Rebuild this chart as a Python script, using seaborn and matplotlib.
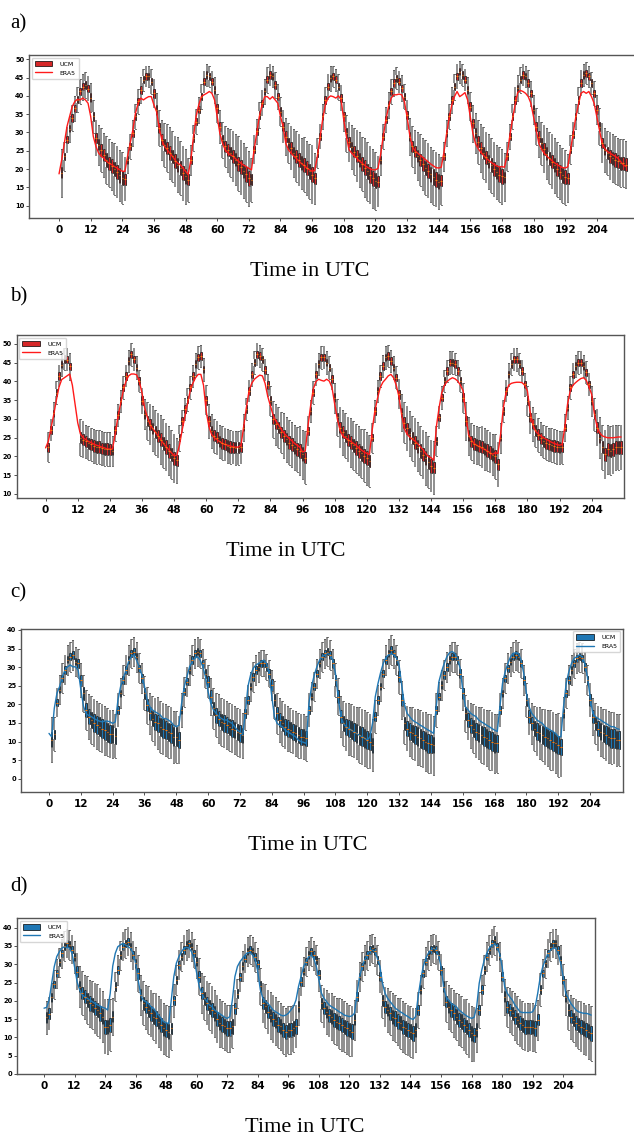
import numpy as np
import pandas as pd
import matplotlib
matplotlib.use("Agg")
import matplotlib.pyplot as plt
from matplotlib.patches import Patch
from matplotlib.lines import Line2D
import seaborn as sns

nan = float("nan")
hours = list(range(216))
xtick_labels = list(range(0, 205, 12))
panel_labels = ["a)", "b)", "c)", "d)"]
series_names = ["UCM", "ERA5"]
xlabel_text = "Time in UTC"

# ---------------- Panel a ----------------
ucm_a = [
    nan, 19, 23.5, 28, 31, 34, 36.6, 39, 41.2, 42.5, 43, 42, 39.5, 34.4, 28.5, 26.6, 25.3, 23.9, 22.5, 21.6, 20.8, 20, 19.2, 18.3,
    17.6, 17.2, 22.5, 26.2, 29.8, 34.4, 38.5, 41.6, 44.4, 45.3, 45.3, 43.9, 40.7, 36.2, 31.2, 28, 26.6, 25.7, 24.4, 23.5, 22.1, 21.2, 20.3, 18.9,
    18, 17.1, 22.5, 28.5, 33, 36.2, 39.8, 43.9, 45.7, 45.3, 43.9, 41.6, 36.6, 31.6, 28, 26.2, 25.3, 24.4, 23.5, 22.6, 21.5, 20.5, 19.5, 18.6,
    17.5, 17.1, 25.3, 30.3, 34.8, 38, 41.2, 44.4, 45.7, 45.3, 43, 39.8, 35.7, 31.6, 28.9, 27.1, 25.7, 24.4, 23.5, 22.5, 21.6, 21.2, 20.3, 19.4,
    18.5, 17.5, 24.4, 28.9, 34.4, 38.9, 42.5, 44.8, 45.3, 44.4, 42.5, 39.4, 34.4, 29.8, 27.5, 26, 24.8, 23.6, 22.5, 21.4, 20.4, 19.4, 18.4, 17.5,
    16.8, 16.6, 22.5, 28.9, 33.5, 37.5, 41.2, 43.5, 44.8, 43.9, 42.1, 39.8, 34.8, 28.9, 26.2, 24.8, 23.6, 22.5, 21.4, 20.4, 19.5, 18.6, 17.8, 17.1,
    16.6, 16.8, 23.5, 29.8, 34.4, 38.9, 42.5, 45.3, 46.6, 45.7, 44.4, 41.6, 37.1, 32.5, 29.8, 27.5, 25.8, 24.4, 23.2, 22, 21, 20, 19.2, 18.5,
    18, 17.8, 23.5, 28.9, 34.4, 38.9, 42.1, 44.4, 45.7, 45.3, 43.5, 40.7, 36.2, 31.6, 28.9, 27, 25.5, 24.2, 23, 22, 21, 20, 19.2, 18.3,
    17.8, 17.5, 25.3, 29.4, 34.4, 38.9, 43.5, 45.7, 46.2, 45.3, 43.5, 40.7, 36.2, 31.6, 27.1, 25.3, 24.4, 23.5, 23, 22.5, 22.1, 21.6, 21.6, 21.2,
]
era5_a = [
    18.7, 22.5, 27.1, 31.6, 34.4, 37.1, 38.5, 39.1, 38.9, 39.4, 38.9, 38, 34.4, 28.9, 26.2, 24.4, 23.5, 23, 22.1, 21.6, 21.2, 20.7, 20.3, 19.8,
    19.4, 19.4, 23.5, 27.1, 30.7, 35.3, 38, 39.4, 38.9, 39.4, 39.8, 39.8, 37.5, 35.7, 31.2, 28, 26.2, 25.3, 24.4, 23.5, 22.5, 21.6, 21.2, 20.3,
    19.4, 18.5, 22.5, 28.9, 34.4, 37.5, 39.8, 40.3, 40.7, 41.2, 40.7, 38.9, 34.4, 29.8, 27.1, 25.3, 24.4, 23.9, 23.5, 22.8, 22.2, 21.6, 21.1, 20.7,
    20.2, 19.8, 25.3, 29.8, 34.4, 37.5, 39.8, 39.8, 39.1, 39.8, 38.9, 38, 34.4, 31.6, 27.1, 25.3, 24.4, 23.6, 22.9, 22.2, 21.5, 20.9, 20.3, 19.8,
    19.4, 19.6, 23.5, 28.5, 33.5, 37.5, 39.4, 40, 39.8, 39.4, 40, 39, 33.5, 29, 25.3, 24.4, 23.6, 22.9, 22.2, 21.6, 21, 20.5, 20.1, 19.8,
    19.8, 20.2, 24, 29, 33.5, 37, 39.4, 40.3, 40.3, 40.5, 40.3, 38.5, 34.4, 29.5, 26.2, 25, 24.4, 23.8, 23.2, 22.6, 22, 21.4, 20.9, 20.4,
    20.3, 20.5, 24.5, 29.5, 34, 37.5, 39.8, 41.2, 39.8, 40.3, 40.9, 38.9, 34.4, 29.8, 27, 25.6, 24.6, 23.8, 23, 22.4, 21.8, 21.3, 20.9, 20.6,
    20.7, 20.5, 24, 29, 33.5, 37.5, 40.9, 41.5, 41.2, 40.7, 39.8, 38, 34.4, 30.7, 27.1, 25.5, 24.4, 23.6, 22.9, 22.3, 21.7, 21.2, 20.8, 20.4,
    20.3, 20.6, 25, 29.5, 34, 37.5, 40.7, 41.2, 40.7, 41.2, 39.8, 38, 34.4, 30.7, 27.1, 25.7, 24.8, 24.4, 23.9, 23.5, 23, 22.1, 21.2, 20.7,
]
box_a = [
    1.8, 1.5, 1, 1, 1, 1, 1, 1, 1, 1, 1, 1, 1.2, 1.3, 1.4, 1.5, 1.6, 1.7, 1.8, 1.8, 1.9, 1.9, 2, 2,
    2, 1.5, 1, 1, 1, 1, 1, 1, 1, 1, 1, 1, 1.2, 1.3, 1.4, 1.5, 1.6, 1.7, 1.8, 1.8, 1.9, 1.9, 2, 2,
    2, 1.5, 1, 1, 1, 1, 1, 1, 1, 1, 1, 1, 1.2, 1.3, 1.4, 1.5, 1.6, 1.7, 1.8, 1.8, 1.9, 1.9, 2, 2,
    2, 1.5, 1, 1, 1, 1, 1, 1, 1, 1, 1, 1, 1.2, 1.3, 1.4, 1.5, 1.6, 1.7, 1.8, 1.8, 1.9, 1.9, 2, 2,
    2, 1.5, 1, 1, 1, 1, 1, 1, 1, 1, 1, 1, 1.2, 1.3, 1.4, 1.5, 1.6, 1.7, 1.8, 1.9, 2, 2, 2.1, 2.1,
    2.1, 1.6, 1, 1, 1, 1, 1, 1, 1, 1, 1, 1, 1.2, 1.3, 1.4, 1.5, 1.6, 1.7, 1.8, 1.9, 2, 2, 2.1, 2.1,
    2, 1.5, 1, 1, 1, 1, 1, 1, 1, 1, 1, 1, 1.2, 1.3, 1.4, 1.5, 1.6, 1.7, 1.8, 1.8, 1.9, 1.9, 2, 2,
    2, 1.5, 1, 1, 1, 1, 1, 1, 1, 1, 1, 1, 1.2, 1.3, 1.4, 1.5, 1.6, 1.7, 1.8, 1.8, 1.9, 1.9, 2, 2,
    2, 1.5, 1, 1, 1, 1, 1, 1, 1, 1, 1, 1, 1.2, 1.3, 1.4, 1.5, 1.6, 1.7, 1.8, 1.8, 1.8, 1.8, 1.8, 1.8,
]
whisk_a = [
    7, 6.5, 4, 3.5, 3.5, 3.5, 3.5, 3.5, 3.5, 3.5, 3.5, 3.5, 4, 4.5, 5, 5.5, 6, 6, 6.5, 6.5, 6.5, 7, 7, 7,
    7, 6, 3.5, 3.5, 3.5, 3.5, 3.5, 3.5, 3, 3, 3, 3.5, 4, 4.5, 5, 5.5, 6, 6.5, 7, 7, 7, 7.5, 7.5, 7.5,
    7.5, 6, 4, 3.5, 3.5, 3.5, 3.5, 3, 3, 3, 3, 3.5, 4, 4.5, 5, 5.5, 6, 6.5, 7, 7, 7.5, 7.5, 7.5, 7.5,
    7.5, 6, 4, 3.5, 3.5, 3.5, 3.5, 3.5, 3, 3, 3.5, 3.5, 4, 4.5, 5, 5.5, 6, 6.5, 7, 7, 7, 7.5, 7.5, 7.5,
    8, 7, 4, 3.5, 3.5, 3.5, 3.5, 3.5, 3, 3, 3.5, 3.5, 4, 5, 5.5, 6, 6.5, 7, 7.5, 7.5, 8, 8, 8, 8,
    8, 7, 4, 3.5, 3.5, 3.5, 3.5, 3.5, 3, 3, 3.5, 3.5, 4, 5, 5.5, 6, 6.5, 7, 7, 7.5, 7.5, 7.5, 7.5, 7.5,
    7.5, 6.5, 4, 3.5, 3.5, 3.5, 3.5, 3.5, 3, 3, 3, 3.5, 4, 5, 5.5, 6, 6.5, 7, 7, 7.5, 7.5, 7.5, 7.5, 7.5,
    7.5, 6.5, 4, 3.5, 3.5, 3.5, 3.5, 3.5, 3, 3, 3.5, 3.5, 4, 5, 5.5, 6, 6.5, 7, 7, 7.5, 7.5, 7.5, 7.5, 7.5,
    7.5, 6.5, 4, 3.5, 3.5, 3.5, 3.5, 3, 3, 3, 3, 3.5, 4, 5, 5.5, 6, 6, 6.5, 6.5, 6.5, 6.5, 6.5, 6.5, 6.5,
]

# ---------------- Panel b ----------------
ucm_b = [
    nan, 22.5, 27, 31.5, 37, 41.5, 44.5, 46, 45.8, 44, nan, nan, nan, 25, 24.5, 24, 23.5, 23.2, 22.8, 22.5, 22.5, 22.2, 22, 22,
    21.9, 21.5, 27, 31, 34.8, 38.4, 41.5, 45.5, 47.2, 45.9, 43.7, 40.1, 34.8, 31.2, 29.5, 28.5, 27.5, 26.5, 25.5, 24.5, 23.5, 22.5, 21.5, 20.5,
    19.5, 19, 25, 29.5, 32.6, 35.2, 38.4, 41.5, 44.6, 46.4, 46.8, 43.2, 35, 29.5, 26.8, 25.5, 25, 24, 23.5, 23.2, 22.8, 22.5, 22.4, 22.3,
    22.3, 22.5, 27.7, 32.6, 37.5, 41.9, 45, 47.2, 46.8, 45.9, 43, 39, 34.8, 29.9, 28.6, 27.7, 26.4, 25.5, 24.6, 23.7, 23.1, 22.4, 21.9, 21.5,
    20.6, 19.7, 26.8, 32.1, 37, 41.9, 44.6, 46.4, 46.4, 45, 43.7, 40.6, 35.7, 30.4, 27.7, 26.5, 25.5, 24.5, 23.7, 23, 22.2, 21.5, 20.8, 20.2,
    19.5, 18.8, 25, 32.1, 37.5, 41.5, 44.1, 46.4, 46.8, 45.5, 43.7, 41, 36.6, 31.7, 29, 27.5, 26, 24.8, 23.7, 22.6, 21.5, 20.5, 19.5, 18.5,
    17.5, 17, 24.1, 30.4, 35.7, 40.1, 42.8, 45, 45, 44.6, 42.8, 40.1, 35.7, 29.5, 25.5, 24, 23.3, 23, 22.8, 22.5, 22, 21.5, 21, 20.5,
    20, 17.9, 25, 32.1, 37.5, 41.9, 44.6, 45.9, 45.9, 44.6, 42.8, 39.2, 34.8, 30.4, 28.6, 27, 25.8, 24.8, 24, 23.5, 23.2, 23, 22.8, 22.6,
    22.4, 22.4, 27.7, 33, 38.4, 41.9, 44.1, 45, 45, 44.1, 42.4, 39.2, 34.8, 31.2, 27.7, 25, 22.4, 20.6, 21.9, 21.5, 21.9, 22.4, 22.4, 22.4,
]
era5_b = [
    22.3, 24, 27.5, 31, 35, 38.5, 40.5, 41, 41.5, 42, 39, 34, 29, 26, 25, 24.5, 24, 23.7, 23.3, 23, 22.8, 22.5, 22.3, 22,
    22, 22, 26, 30.5, 34, 37.5, 40, 41.5, 42, 42, 41.8, 40, 37, 33, 30.5, 28.6, 27.5, 26.5, 25.5, 24.5, 23.5, 22.6, 21.8, 21,
    20.2, 20.3, 23, 27, 30.5, 34, 37.5, 39.5, 41, 41.9, 41.9, 39, 32, 28, 25.9, 25, 24.5, 24, 23.5, 23.2, 23, 22.8, 22.6, 22.5,
    22.5, 23, 28, 33, 37.5, 39.5, 40.6, 41.2, 41.7, 41.5, 39.5, 36, 33.5, 31, 29.5, 28.5, 27.3, 26.3, 25.5, 24.8, 24.2, 23.5, 23, 22.5,
    21.2, 21.5, 28, 33.5, 38, 40, 40.6, 40.3, 40.1, 40.6, 40.1, 38.4, 34, 30, 27, 25.5, 25, 24.5, 24, 23.5, 23, 22.3, 21.7, 21.2,
    20.8, 20.6, 27, 32.1, 35.5, 38.4, 39.8, 40.6, 41.5, 41.9, 41, 39, 36, 31.2, 27.5, 26, 25.2, 24.6, 24.1, 23.4, 22.6, 21.8, 20.8, 20,
    19.7, 19, 28, 33, 37, 39, 40, 40.6, 41, 40.7, 40.1, 39, 37.5, 31.2, 25.9, 24.5, 23.5, 23, 22.6, 22.2, 21.9, 21.5, 21, 20.6,
    21, 20.8, 26, 33, 37, 39, 39.5, 39.7, 39.8, 39.8, 39.7, 39, 37.5, 32, 28.5, 26.8, 26, 25.5, 25, 24.6, 24.2, 23.8, 23.5, 23.2,
    23, 23.2, 28, 34, 37.5, 39, 39.7, 40.3, 40.8, 41, 40.3, 38.5, 36.6, 31.5, 28, 26.3, 25.5, 25.2, 25, 25, 25, 25.1, 25.2, 25.2,
]
box_b = [
    1.5, 1.2, 1, 1, 1, 1, 1, 1, 1, 1, 1, 1, 1, 1.5, 1.5, 1.5, 1.5, 1.5, 1.5, 1.5, 1.5, 1.5, 1.5, 1.5,
    1.5, 1.2, 1, 1, 1, 1, 1, 1, 1, 1, 1, 1, 1.2, 1.3, 1.4, 1.5, 1.5, 1.6, 1.6, 1.7, 1.7, 1.8, 1.8, 1.8,
    1.8, 1.5, 1, 1, 1, 1, 1, 1, 1, 1, 1, 1, 1.2, 1.3, 1.4, 1.5, 1.5, 1.5, 1.5, 1.5, 1.5, 1.5, 1.5, 1.5,
    1.5, 1.2, 1, 1, 1, 1, 1, 1, 1, 1, 1, 1, 1.2, 1.3, 1.4, 1.5, 1.5, 1.6, 1.6, 1.7, 1.7, 1.7, 1.8, 1.8,
    1.8, 1.5, 1, 1, 1, 1, 1, 1, 1, 1, 1, 1, 1.2, 1.3, 1.4, 1.5, 1.6, 1.6, 1.7, 1.7, 1.8, 1.8, 1.9, 1.9,
    1.9, 1.5, 1, 1, 1, 1, 1, 1, 1, 1, 1, 1, 1.2, 1.3, 1.4, 1.5, 1.6, 1.6, 1.7, 1.7, 1.8, 1.8, 1.9, 1.9,
    1.9, 1.5, 1, 1, 1, 1, 1, 1, 1, 1, 1, 1, 1.2, 1.3, 1.5, 1.5, 1.6, 1.6, 1.6, 1.7, 1.7, 1.7, 1.8, 1.8,
    1.8, 1.5, 1, 1, 1, 1, 1, 1, 1, 1, 1, 1, 1.2, 1.3, 1.4, 1.5, 1.5, 1.5, 1.5, 1.5, 1.5, 1.5, 1.5, 1.5,
    1.5, 1.2, 1, 1, 1, 1, 1, 1, 1, 1, 1, 1, 1.2, 1.3, 1.4, 1.5, 1.6, 1.7, 1.7, 1.7, 1.7, 1.7, 1.7, 1.7,
]
whisk_b = [
    5, 4, 3, 3, 3, 3, 3, 3, 3, 3.5, 4, 4, 4, 5, 5, 4.5, 4.5, 4.5, 4.5, 4.5, 4.5, 4.5, 4.5, 4.5,
    4.5, 4, 3, 3, 3, 3, 3, 3, 3, 3, 3, 3, 3.5, 4, 5, 5.5, 6, 6, 6, 6.5, 6.5, 6.5, 6.5, 6.5,
    6.5, 6, 3.5, 3, 3, 3, 3, 3, 3, 3, 3, 3, 4, 4.5, 4.5, 4.5, 4.5, 4.5, 4.5, 4.5, 4.5, 4.5, 4.5, 4.5,
    4.5, 4.5, 3.5, 3, 3, 3, 3, 3, 3, 3, 3, 3, 4, 5, 5.5, 5.5, 5.5, 6, 6, 6, 6, 6, 6, 6.5,
    6.5, 7, 4, 3, 3, 3, 3, 3, 3, 3, 3, 3, 4, 5, 5.5, 6, 6, 6, 6.5, 6.5, 6.5, 6.5, 6.5, 7,
    7, 7, 4, 3, 3, 3, 3, 3, 3, 3, 3, 3, 4, 5, 5.5, 6, 6, 6, 6.5, 6.5, 6.5, 6.5, 7, 7,
    7, 7, 4, 3, 3, 3, 3, 3, 3, 3, 3, 3, 4, 5, 5, 5, 5, 5, 5, 5.5, 5.5, 5.5, 5.5, 5.5,
    6, 6, 4, 3, 3, 3, 3, 3, 3, 3, 3, 3, 4, 4.5, 4.5, 4.5, 4.5, 4.5, 4.5, 4.5, 4.5, 4.5, 4.5, 4.5,
    4.5, 4.5, 3.5, 3, 3, 3, 3, 3, 3, 3, 3, 3, 4, 4.5, 5, 5.5, 6, 6.5, 6.5, 6.5, 6.5, 6, 6, 6,
]

# ---------------- Panel c ----------------
ucm_c = [
    nan, 10.5, 12, 20.5, 24, 27, 29.2, 32, 32.8, 33.3, 31.5, 31, 26.5, 23, 18.5, 16.7, 15.8, 15, 14.5, 14, 13.5, 13, 12.5, 12,
    12, 11.5, 18.5, 23, 26.5, 29.2, 31.9, 33.7, 34.2, 32.8, 29.7, 27, 23, 19.8, 17.6, 16.2, 15.3, 14.9, 14, 13.5, 13.1, 12.6, 12.2, 11.3,
    11.3, 10.4, 18.5, 23.4, 26.1, 29.2, 31.9, 33.7, 34.2, 33.7, 31, 28.3, 26.1, 22.1, 18.9, 17.1, 16.2, 15.3, 14.9, 14.4, 14, 13.5, 13.1, 12.6,
    12.2, 11.7, 17.6, 21.2, 24.8, 27.4, 29.2, 30.1, 31, 31, 30.1, 28.3, 25.2, 21.2, 17.6, 15.8, 14.9, 14, 13.5, 13.1, 12.6, 12.2, 11.7, 11.3,
    11.3, 10.9, 18.5, 22.1, 24.8, 28.3, 31, 32.8, 33.7, 34.2, 33.3, 31, 26.5, 22.1, 16.7, 14.9, 14, 13.5, 13.1, 12.6, 12.2, 11.7, 11.3, 10.9,
    10.4, 10, 9, 16.7, 21.2, 24.8, 28.3, 31.9, 33.7, 34.6, 33.7, 31.9, 27.4, 21.2, 14.9, 13.5, 12.7, 12.2, 11.7, 11.3, 10.9, 10.4, 10, 9.5,
    9.3, 9, 18.5, 22.1, 25.2, 27.9, 30.1, 31.9, 32.8, 32.8, 31.9, 28.3, 23, 17.6, 15.8, 14.4, 13.5, 12.7, 12.2, 11.8, 11.3, 10.9, 10.4, 10,
    9.5, 9.5, 18.5, 23, 27, 29.7, 31.5, 32.8, 33.3, 32.8, 31, 26.5, 21.2, 16.7, 14.9, 13.5, 12.7, 12.2, 11.8, 11.3, 10.9, 10.4, 10, 9.5,
    9.1, 8.6, 17.6, 23, 26.5, 29.2, 31, 32.4, 32.8, 32.4, 30.1, 26.5, 21.2, 16.7, 14.9, 13.5, 12.7, 12.2, 11.8, 11.3, 10.9, 10.9, 10.4, 10.4,
]
era5_c = [
    12.2, 11.3, 19, 23, 24.8, 27.4, 29.2, 30.1, 30.6, 30.1, 30.1, 29.2, 24, 19.5, 17.5, 17, 16.7, 16.2, 15.8, 15.5, 15.3, 15.5, 15.5, 15.3,
    14.9, 15.3, 21.2, 24.8, 27, 29.2, 31.5, 32.8, 33.3, 31.9, 30.1, 27.9, 24.8, 21.2, 19.4, 18.5, 18, 17.6, 17.1, 16.2, 16.2, 15.8, 15.3, 14.4,
    14, 14.4, 20.3, 24.8, 27.4, 30.1, 31.5, 32.4, 32.8, 31.9, 30.1, 27.4, 23.4, 20.3, 18.5, 17.6, 16.7, 16.2, 15.8, 15.8, 15.3, 14.9, 14, 13.1,
    12.6, 11.7, 17.6, 24.8, 27.9, 29.7, 30.6, 31, 31.5, 31.9, 31, 28.3, 22.1, 16.7, 14.9, 14.4, 14, 13.1, 12.6, 12.2, 11.7, 11.3, 10.4, 10,
    9.8, 9.5, 20.3, 24.8, 27.9, 30.1, 31.9, 32.8, 33.3, 33.7, 33.3, 31.9, 28.3, 22.1, 16.7, 14.9, 14, 13.5, 13.1, 12.6, 12.2, 11.7, 11.3, 10.9,
    10.4, 11.3, 15, 22, 25.5, 28.5, 31, 32.5, 33.3, 33.7, 33.3, 32.5, 30.5, 25, 20, 17.6, 16.7, 15.8, 15.3, 14.9, 14.4, 14, 13.5, 13.1,
    12.7, 12.2, 19.4, 26.1, 28.8, 31, 32.8, 33.9, 34.2, 33.7, 32.4, 29.7, 23.9, 19.4, 18.5, 17.6, 17.1, 16.7, 15.8, 15.3, 14.9, 14.4, 14, 13.5,
    13.1, 12.7, 19.4, 25.7, 28.8, 31, 32.8, 33.7, 33.9, 33.7, 31.9, 28.3, 23, 19.4, 17.6, 16.7, 15.8, 15.3, 14.9, 14, 13.5, 13.1, 12.7, 12.2,
    11.3, 11.3, 19.4, 25.7, 28.8, 31, 32.4, 32.8, 33.3, 32.8, 31, 27.4, 22.1, 17.6, 16.7, 16.2, 15.8, 15.3, 14.9, 14.4, 14, 14, 13.5, 13.3,
]
box_c = [
    2.2, 2, 1.2, 1, 1, 1, 1, 1, 1, 1, 1, 1.2, 1.5, 1.7, 1.8, 2, 2.2, 2.3, 2.4, 2.5, 2.5, 2.5, 2.5, 2.5,
    2.5, 2.2, 1.2, 1, 1, 1, 1, 1, 1, 1, 1, 1.2, 1.5, 1.7, 1.8, 2, 2.2, 2.3, 2.4, 2.5, 2.5, 2.5, 2.5, 2.5,
    2.5, 2.2, 1.2, 1, 1, 1, 1, 1, 1, 1, 1, 1.2, 1.5, 1.7, 1.8, 2, 2.1, 2.2, 2.2, 2.2, 2.2, 2.2, 2.2, 2.2,
    2.2, 2, 1.2, 1, 1, 1, 1, 1, 1, 1, 1, 1.2, 1.5, 1.7, 1.8, 2, 2.1, 2.2, 2.2, 2.2, 2.2, 2.2, 2.2, 2.2,
    2.2, 2, 1.2, 1, 1, 1, 1, 1, 1, 1, 1, 1.2, 1.5, 1.7, 1.8, 2, 2.2, 2.3, 2.4, 2.5, 2.5, 2.5, 2.5, 2.5,
    2.5, 2.2, 2, 1.2, 1, 1, 1, 1, 1, 1, 1, 1.2, 1.5, 1.7, 1.8, 2, 2.2, 2.3, 2.4, 2.5, 2.5, 2.5, 2.5, 2.5,
    2.5, 2.2, 1.2, 1, 1, 1, 1, 1, 1, 1, 1, 1.2, 1.5, 1.7, 1.8, 2, 2.2, 2.3, 2.4, 2.5, 2.5, 2.5, 2.5, 2.5,
    2.5, 2.2, 1.2, 1, 1, 1, 1, 1, 1, 1, 1, 1.2, 1.5, 1.7, 1.8, 2, 2.2, 2.3, 2.4, 2.5, 2.5, 2.5, 2.5, 2.5,
    2.5, 2.2, 1.2, 1, 1, 1, 1, 1, 1, 1, 1, 1.2, 1.5, 1.7, 1.8, 2, 2.2, 2.3, 2.4, 2.5, 2.5, 2.5, 2.5, 2.5,
]
whisk_c = [
    6.5, 6, 4.5, 4, 4, 4, 4, 4, 4, 4, 4, 4, 4.5, 5, 5.5, 6, 6.5, 6.5, 6.5, 6.5, 6.5, 6.5, 6.5, 6.5,
    6.5, 6, 4.5, 4, 4, 4, 4, 4, 4, 4, 4, 4, 4.5, 5, 5.5, 6, 6.5, 7, 7, 7, 7, 7, 7, 7,
    7, 6.5, 4.5, 4, 4, 4, 4, 4, 4, 4, 4, 4, 4.5, 5, 5.5, 6, 6.5, 6.5, 6.5, 6.5, 6.5, 6.5, 6.5, 6.5,
    6.5, 6, 4.5, 4, 4, 4, 4, 4, 3.5, 3.5, 3.5, 3.5, 4, 5, 5.5, 6, 6, 6, 6, 6, 6, 6, 6, 6,
    6, 6, 4.5, 4, 4, 4, 4, 4, 4, 4, 4, 4, 4.5, 5, 5.5, 6, 6.5, 7, 7, 7, 7, 7.5, 7.5, 7.5,
    7.5, 7.5, 7, 4.5, 4, 4, 4, 4, 4, 4, 4, 4, 4.5, 5, 5.5, 6, 6.5, 7, 7, 7.5, 7.5, 7.5, 8, 8,
    8, 8, 4.5, 4, 4, 4, 4, 4, 4, 4, 4, 4, 4.5, 5, 5.5, 6, 6.5, 7, 7, 7.5, 7.5, 7.5, 8, 8,
    8, 8, 4.5, 4, 4, 4, 4, 4, 4, 4, 4, 4, 4.5, 5, 5.5, 6, 6.5, 7, 7, 7.5, 7.5, 8, 8, 8,
    8.5, 8, 4.5, 4, 4, 4, 4, 4, 4, 4, 4, 4, 4.5, 5, 5.5, 6, 6.5, 6.5, 7, 7, 7, 7, 7, 7,
]

# ---------------- Panel d ----------------
ucm_d = [
    nan, 15.5, 16.5, 21, 24.5, 27.5, 30.5, 33, 35, 35.7, 35.3, 34, 32, 28, 23.9, 22.1, 21.1, 20.2, 19.3, 18.9, 18, 17.5, 16.6, 15.7,
    12.9, 12.9, 13.4, 15.7, 23.9, 28.4, 32.5, 34.8, 35.7, 36.2, 34.8, 32.5, 30.3, 27.5, 21.6, 19.3, 18.4, 17.5, 16.6, 15.7, 15.2, 14.3, 13.4, 12.5,
    12, 11.6, 12.5, 20.2, 25.7, 29.8, 32.1, 33.9, 35.3, 35.7, 34.8, 33, 30.7, 26.6, 22.1, 20.7, 19.3, 18.4, 17.5, 16.6, 15, 14, 13.5, 13,
    12.5, 12.5, 13, 18, 22, 26.5, 29.5, 31.5, 33.5, 34, 33.5, 32, 30, 24, 19.5, 18.5, 17, 16, 15, 14.5, 13.5, 13, 12, 11.5,
    12, 12, 12.5, 13, 18.4, 25.2, 28, 30.7, 32.5, 33.5, 32.5, 31.2, 27.1, 19.3, 18, 17, 16.1, 15.7, 14.8, 14.3, 13.9, 13.4, 12.9, 12.5,
    12, 11.6, 14.8, 21.1, 26.6, 29.4, 31.2, 32.5, 33.9, 34.4, 33.5, 31.2, 26.6, 20.2, 18.4, 17.5, 16.6, 15.7, 15.2, 14.3, 13.9, 12.9, 12.5, 12,
    11.6, 11.1, 12, 17.5, 23, 27.5, 30.7, 32.5, 33.9, 34.4, 33.9, 32.5, 28.4, 23.9, 19.8, 18.4, 17.5, 16.6, 15.7, 14.8, 14.3, 13.4, 12.9, 12,
    11.1, 10.7, 12, 17.5, 23, 28.4, 32.1, 33.9, 35.7, 36.6, 34.8, 32.1, 26.6, 21.1, 18.4, 17.5, 16.6, 15.7, 14.8, 13.9, 13.4, 12.9, 12.9, 12.9,
    12.9, 12.5, 14.8, 23, 27.5, 30.3, 33, 34.8, 35.7, 35.7, 33.9, 31.2, 25.7, 21.1, 17.5, 15.7, 14.8, 13.9, 13.4, 12.9, 12.5, 12, 11.6, 11.1,
]
era5_d = [
    18, 18.2, 20.2, 24.8, 29.3, 32.1, 33.4, 34.4, 34.8, 34.6, 34.4, 33, 29.3, 25.2, 23, 21.6, 21.1, 20.7, 20.2, 19.8, 19.3, 18.9, 18.6, 18.2,
    18, 17.5, 22, 29.5, 33, 34.8, 35.3, 35.7, 35.3, 34.8, 34.4, 33, 30.3, 25.7, 21.6, 20.2, 19.8, 19.3, 18.4, 18, 17, 16.1, 15.2, 14.3,
    14, 13.8, 20.2, 26.6, 30.3, 32.1, 33.4, 34.4, 34.6, 34.4, 33.4, 31.2, 27.5, 23.9, 22.1, 20.7, 19.8, 18.9, 18.4, 17.5, 17, 16.5, 16, 15.5,
    15.2, 15.7, 20.2, 26.6, 29.4, 30.7, 31.6, 32.5, 33.2, 33.2, 32.5, 31.2, 28, 23, 20.7, 19.8, 19.3, 18.4, 17.5, 17, 16.6, 16.1, 15.9, 16.1,
    16.6, 17.5, 18.4, 20.2, 23.9, 26.6, 29.4, 30.7, 32.1, 32.5, 31.6, 29.4, 25.7, 22.1, 20.7, 19.8, 18.9, 18.4, 18, 17.5, 17, 16.6, 16.1, 15.9,
    15.7, 15.9, 16.6, 22.1, 26.6, 29.4, 31.2, 32.5, 33.5, 33.9, 33.5, 31.6, 29.4, 24.8, 22.1, 20.7, 19.8, 18.9, 18, 17.5, 17, 16.6, 16.1, 15.7,
    15.2, 14.9, 15.7, 21.1, 25.7, 29.4, 31.6, 33, 33.9, 34.4, 33.9, 32.5, 29.4, 23.9, 21.1, 20.2, 19.3, 18.9, 18.4, 17.5, 17, 16.4, 15.9, 15.5,
    15.2, 15.5, 18.4, 24.8, 28.4, 31.2, 33, 34.4, 35.3, 35.7, 34.8, 33, 29.4, 23.9, 22.1, 21.1, 20.2, 18.9, 18, 17, 16.8, 16.8, 16.8, 16.8,
    17, 18.4, 22.1, 26.6, 29.4, 31.2, 33, 33.9, 34.4, 34.4, 33, 30.3, 26.6, 22.1, 20.7, 19.3, 18.4, 17.5, 17, 16.8, 16.6, 16.6, 16.4, 16.1,
]
box_d = [
    2, 1.5, 1.5, 1.2, 1, 1, 1, 1, 1, 1, 1, 1, 1.2, 1.5, 1.6, 1.7, 1.8, 1.9, 2, 2, 2, 2, 2, 2,
    2, 2, 2, 1.5, 1.2, 1, 1, 1, 1, 1, 1, 1, 1.2, 1.5, 1.6, 1.7, 1.8, 1.9, 2, 2, 2, 2, 2, 2,
    2, 2, 1.5, 1.2, 1, 1, 1, 1, 1, 1, 1, 1, 1.2, 1.5, 1.6, 1.7, 1.8, 1.9, 2, 2, 2, 2, 2, 2,
    2, 2, 2, 1.5, 1.2, 1, 1, 1, 1, 1, 1, 1, 1.2, 1.5, 1.6, 1.7, 1.8, 1.9, 2, 2, 2, 2, 2, 2,
    2, 2, 2, 2, 1.5, 1.2, 1, 1, 1, 1, 1, 1, 1.2, 1.5, 1.6, 1.7, 1.8, 1.9, 2, 2, 2, 2, 2, 2,
    2, 2, 1.5, 1.2, 1, 1, 1, 1, 1, 1, 1, 1, 1.2, 1.5, 1.6, 1.7, 1.8, 1.9, 2, 2, 2, 2, 2, 2,
    2, 2, 2, 1.5, 1.2, 1, 1, 1, 1, 1, 1, 1, 1.2, 1.5, 1.6, 1.7, 1.8, 1.9, 2, 2, 2, 2, 2, 2,
    2, 2, 2, 1.5, 1.2, 1, 1, 1, 1, 1, 1, 1, 1.2, 1.5, 1.6, 1.7, 1.8, 1.9, 2, 2, 2, 2, 2, 2,
    2, 2, 1.5, 1.2, 1, 1, 1, 1, 1, 1, 1, 1, 1.2, 1.5, 1.6, 1.7, 1.8, 1.9, 2, 2, 2, 2, 2, 2,
]
whisk_d = [
    6.5, 4.5, 4.5, 4, 4, 4, 4, 4, 4, 4, 4, 4, 4.5, 5, 5.5, 6, 6, 6.5, 6.5, 6.5, 7, 7, 7, 7,
    7.5, 7.5, 7, 5, 4, 4, 4, 4, 4, 4, 4, 4, 4.5, 5, 5.5, 6, 6, 6.5, 6.5, 6.5, 7, 7, 7, 7,
    7, 7, 6, 4.5, 4, 4, 4, 4, 4, 4, 4, 4, 4.5, 5, 5.5, 6, 6, 6.5, 6.5, 6.5, 6.5, 6.5, 6.5, 6.5,
    6.5, 6.5, 6, 5, 4, 4, 4, 4, 4, 4, 4, 4, 4.5, 5, 5.5, 6, 6, 6.5, 6.5, 6.5, 6.5, 6.5, 6.5, 6.5,
    6.5, 6.5, 6.5, 6, 5, 4, 4, 4, 4, 4, 4, 4, 4.5, 5, 5.5, 6, 6, 6.5, 6.5, 6.5, 7, 7, 7, 7,
    7, 7, 5.5, 4.5, 4, 4, 4, 4, 4, 4, 4, 4, 4.5, 5, 5.5, 6, 6, 6.5, 6.5, 6.5, 7, 7, 7, 7,
    7, 7, 6, 5, 4, 4, 4, 4, 4, 4, 4, 4, 4.5, 5, 5.5, 6, 6, 6.5, 6.5, 7, 7, 7, 7.5, 7.5,
    7.5, 7.5, 6, 5, 4, 4, 4, 4, 4, 4, 4, 4, 4.5, 5, 5.5, 6, 6, 6.5, 6.5, 6.5, 6.5, 6.5, 6.5, 6.5,
    6.5, 6.5, 5.5, 4.5, 4, 4, 4, 4, 4, 4, 4, 4, 4.5, 5, 5.5, 6, 6, 6.5, 6.5, 7, 7, 7, 7.5, 7.5,
]

for _name, _arr in [("ucm_a", ucm_a), ("era5_a", era5_a), ("box_a", box_a), ("whisk_a", whisk_a),
                    ("ucm_b", ucm_b), ("era5_b", era5_b), ("box_b", box_b), ("whisk_b", whisk_b),
                    ("ucm_c", ucm_c), ("era5_c", era5_c), ("box_c", box_c), ("whisk_c", whisk_c),
                    ("ucm_d", ucm_d), ("era5_d", era5_d), ("box_d", box_d), ("whisk_d", whisk_d)]:
    assert len(_arr) == 216, (_name, len(_arr))


def to_long(med, box, wsk):
    hh, vv = [], []
    for h in hours:
        m = med[h]
        if np.isnan(m):
            continue
        for v in (m - wsk[h], m - box[h], m, m + box[h], m + wsk[h]):
            hh.append(h)
            vv.append(v)
    return pd.DataFrame({"hour": hh, "temp": vv})


sns.set_theme(style="ticks")
plt.rcParams["font.family"] = ["DejaVu Sans"]
plt.rcParams["text.color"] = "black"
plt.rcParams["xtick.color"] = "black"
plt.rcParams["ytick.color"] = "black"
plt.rcParams["xtick.labelcolor"] = "black"
plt.rcParams["ytick.labelcolor"] = "black"

W, H = 634, 1136
fig = plt.figure(figsize=(W / 100, H / 100), dpi=100)


def px_axes(left, right, top, bottom):
    return fig.add_axes([left / W, 1 - bottom / H, (right - left) / W, (bottom - top) / H])


panels = [
    dict(med=ucm_a, box=box_a, wsk=whisk_a, era=era5_a, face="#d62728", line="#ff1a1a",
         rect=(29, 645, 55, 218), xlim=(-11.4, 222.3), ylim=(6.64, 51.17),
         yticks=list(range(10, 51, 5)), loc="upper left"),
    dict(med=ucm_b, box=box_b, wsk=whisk_b, era=era5_b, face="#d62728", line="#ff1a1a",
         rect=(16.7, 624.3, 335, 498), xlim=(-10.8, 216.2), ylim=(8.93, 52.4),
         yticks=list(range(10, 51, 5)), loc="upper left"),
    dict(med=ucm_c, box=box_c, wsk=whisk_c, era=era5_c, face="#1f77b4", line="#1f77b4",
         rect=(21, 622.7, 628.5, 791.7), xlim=(-10.56, 216.3), ylim=(-3.47, 40.4),
         yticks=list(range(0, 41, 5)), loc="upper right"),
    dict(med=ucm_d, box=box_d, wsk=whisk_d, era=era5_d, face="#1f77b4", line="#1f77b4",
         rect=(17.3, 595, 918.3, 1074), xlim=(-10.5, 216.5), ylim=(0, 42.57),
         yticks=list(range(0, 41, 5)), loc="upper left"),
]

for p in panels:
    ax = px_axes(*p["rect"])
    df = to_long(p["med"], p["box"], p["wsk"])
    sns.boxplot(data=df, x="hour", y="temp", native_scale=True, whis=(0, 100),
                width=0.6, showfliers=False, color=p["face"], saturation=1,
                linecolor="black", linewidth=0.5,
                medianprops=dict(color="#ff7f0e", linewidth=0.8),
                whiskerprops=dict(color="#707070", linewidth=1.1),
                capprops=dict(color="#555555", linewidth=0.7),
                ax=ax)
    sns.lineplot(x=hours, y=p["era"], color=p["line"], linewidth=1.0, ax=ax)
    ax.set_xlim(*p["xlim"])
    ax.set_ylim(*p["ylim"])
    ax.set_xticks(xtick_labels)
    ax.set_xticklabels([str(v) for v in xtick_labels], fontsize=7.5, fontweight="bold", color="black")
    ax.set_yticks(p["yticks"])
    ax.set_yticklabels([str(v) for v in p["yticks"]], fontsize=4.8, fontweight="bold", color="black")
    ax.tick_params(axis="both", length=2, width=0.6, pad=1.5, color="#333333")
    ax.tick_params(axis="x", pad=3)
    ax.set_xlabel("")
    ax.set_ylabel("")
    for s in ax.spines.values():
        s.set_color("#555555")
        s.set_linewidth(1.0)
    handles = [Patch(facecolor=p["face"], edgecolor="black", linewidth=0.5, label=series_names[0]),
               Line2D([], [], color=p["line"], linewidth=1.0, label=series_names[1])]
    leg = ax.legend(handles=handles, loc=p["loc"], fontsize=4.5, frameon=True,
                    handlelength=2.8, handleheight=1.0, borderpad=0.5, labelspacing=0.5,
                    handletextpad=1.2, borderaxespad=0.4, fancybox=True, edgecolor="#cccccc")
    for t in leg.get_texts():
        t.set_color("black")

serif = ["Liberation Serif", "DejaVu Serif"]
label_y = [24, 297, 593, 887]
for lab, y in zip(panel_labels, label_y):
    fig.text(10 / W, 1 - y / H, lab, fontsize=15, family=serif, ha="left", va="center", color="black")

xlabel_pos = [(310, 272), (286, 552), (308, 845), (305, 1127)]
for (x, y) in xlabel_pos:
    fig.text(x / W, 1 - y / H, xlabel_text, fontsize=16, family=serif, ha="center", va="center", color="black")

fig.savefig("out.png", dpi=100)
